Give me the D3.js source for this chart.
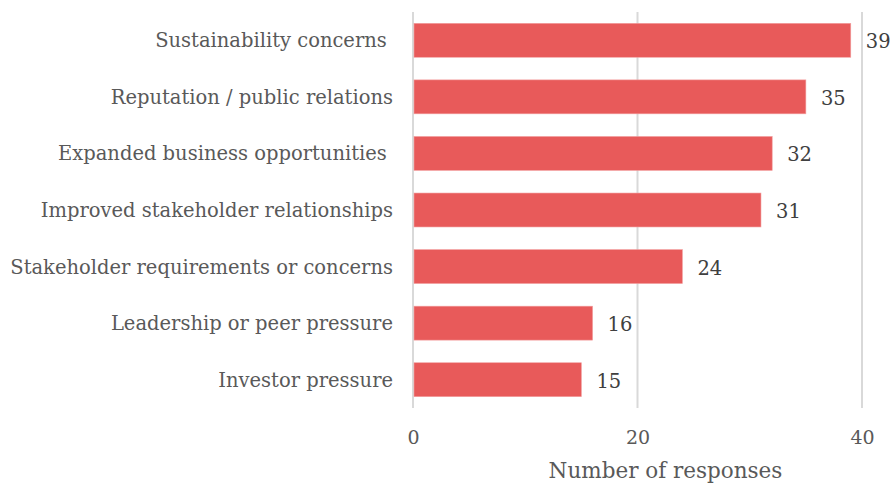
<!DOCTYPE html>
<html>
<head>
<meta charset="utf-8">
<script src="https://cdn.jsdelivr.net/npm/d3@7"></script>
<style>
  html, body { margin: 0; padding: 0; background: #fff; }
  svg text { font-family: "DejaVu Serif", "Liberation Serif", serif; fill: #595959; }
</style>
</head>
<body>
<svg id="chart" width="893" height="486"></svg>
<script>
// Responses per motivation
const categories = [
  "Sustainability concerns ",
  "Reputation / public relations",
  "Expanded business opportunities ",
  "Improved stakeholder relationships",
  "Stakeholder requirements or concerns",
  "Leadership or peer pressure",
  "Investor pressure"
];
const values = [39, 35, 32, 31, 24, 16, 15];
const tickValues = [0, 20, 40];
const axisTitle = "Number of responses";

const svg = d3.select("#chart");
const margin = { left: 413, right: 31, top: 12, bottom: 78 };
const W = 893, H = 486;

const x = d3.scaleLinear().domain([0, 40]).range([margin.left, W - margin.right]);
const y = d3.scaleBand().domain(categories).range([margin.top, H - margin.bottom]).paddingInner(0.4).paddingOuter(0.2);

// vertical gridlines
svg.append("g").selectAll("line").data(tickValues).join("line")
  .attr("x1", d => x(d)).attr("x2", d => x(d))
  .attr("y1", margin.top).attr("y2", H - margin.bottom)
  .attr("stroke", "#d9d9d9").attr("stroke-width", 2);

// bars
svg.append("g").selectAll("rect").data(values).join("rect")
  .attr("x", x(0) + 1)
  .attr("y", (d, i) => y(categories[i]))
  .attr("width", d => x(d) - x(0) - 1)
  .attr("height", y.bandwidth())
  .attr("fill", "#e85a5a")
  .attr("stroke", "#f2a0a0").attr("stroke-width", 0.6);

// value labels
svg.append("g").selectAll("text").data(values).join("text")
  .attr("x", d => x(d) + 15)
  .attr("y", (d, i) => y(categories[i]) + y.bandwidth() / 2 + 8)
  .attr("font-size", 19.5)
  .style("fill", "#404040")
  .text(d => d);

// category labels
svg.append("g").selectAll("text").data(categories).join("text")
  .attr("x", 393)
  .attr("y", d => y(d) + y.bandwidth() / 2 + 7)
  .attr("text-anchor", "end")
  .attr("font-size", 19.5)
  .attr("xml:space", "preserve")
  .style("white-space", "pre")
  .text(d => d);

// x axis tick labels
const axis = d3.axisBottom(x).tickValues(tickValues).tickSize(0).tickPadding(0);
const gx = svg.append("g").attr("transform", `translate(0, ${H - 42})`).call(axis);
gx.select(".domain").remove();
gx.selectAll("text").attr("font-size", 19).attr("dy", 0)
  .style("font-family", '"DejaVu Serif", serif').style("fill", "#595959");

// axis title
svg.append("text")
  .attr("x", (x(0) + x(40)) / 2 + 28)
  .attr("y", 478)
  .attr("text-anchor", "middle")
  .attr("font-size", 21.5)
  .text(axisTitle);
</script>
</body>
</html>
